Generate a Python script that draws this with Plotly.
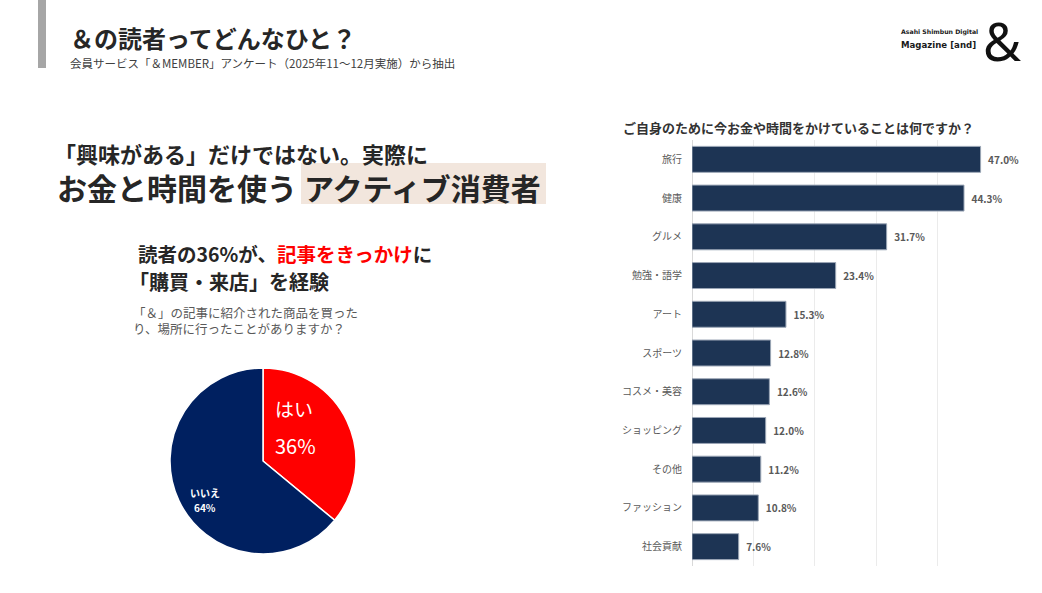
import plotly.graph_objects as go

W, H = 1042, 593
FONT = "Noto Sans CJK JP"

categories = ["旅行", "健康", "グルメ", "勉強・語学", "アート", "スポーツ", "コスメ・美容",
              "ショッピング", "その他", "ファッション", "社会貢献"]
values = [47.0, 44.3, 31.7, 23.4, 15.3, 12.8, 12.6, 12.0, 11.2, 10.8, 7.6]

pie_labels = ["はい", "いいえ"]
pie_values = [36, 64]

def px(x):
    return x / W

def py(y):
    return 1 - y / H

fig = go.Figure()

fig.add_trace(go.Bar(
    x=values, y=categories, orientation="h",
    marker=dict(color="#1d3454", line=dict(color="#9aa5b5", width=1)),
    text=[f"\u00a0\u00a0{v:.1f}%" for v in values], textposition="outside",
    textfont=dict(family=FONT, size=10, color="#595959", weight="bold"),
    cliponaxis=False, hoverinfo="skip",
))

fig.add_trace(go.Pie(
    labels=pie_labels, values=pie_values, sort=False, direction="clockwise",
    rotation=0, marker=dict(colors=["#ff0000", "#002060"], line=dict(color="white", width=1.5)),
    textinfo="none", showlegend=False, hoverinfo="skip",
    domain=dict(x=[px(170), px(356)], y=[py(554), py(368)]),
))

fig.update_layout(
    width=W, height=H, margin=dict(l=0, r=0, t=0, b=0),
    paper_bgcolor="white", plot_bgcolor="white", showlegend=False,
    bargap=0.33,
    font=dict(family=FONT),
    xaxis=dict(domain=[px(692), px(999)], range=[0, 50], dtick=10, showticklabels=False,
               showgrid=True, gridcolor="#ebebeb", gridwidth=1, zeroline=True,
               zerolinecolor="#d9d9d9", zerolinewidth=1, fixedrange=True),
    yaxis=dict(domain=[py(566), py(140)], autorange="reversed", type="category",
               tickfont=dict(family=FONT, size=10, color="#595959"), ticks="",
               ticklabelstandoff=9, showgrid=False, fixedrange=True),
)

shapes = [
    dict(type="rect", xref="paper", yref="paper", x0=px(38), x1=px(46), y0=py(68), y1=py(0),
         fillcolor="#a6a6a6", line=dict(width=0), layer="below"),
    dict(type="rect", xref="paper", yref="paper", x0=px(301), x1=px(546), y0=py(204), y1=py(163),
         fillcolor="#f2e6dd", line=dict(width=0), layer="below"),
]
fig.update_layout(shapes=shapes)

ann = []
def add(text, x, y, size, color="#262626", xanchor="left", yanchor="middle", weight="normal", family=FONT, align="left"):
    ann.append(dict(text=text, x=px(x), y=py(y), xref="paper", yref="paper", showarrow=False,
                    xanchor=xanchor, yanchor=yanchor, align=align,
                    font=dict(family=family, size=size, color=color, weight=weight)))

add("＆の読者ってどんなひと？", 68, 37, 24, weight="bold")
add("会員サービス「＆MEMBER」アンケート（2025年11〜12月実施）から抽出", 68, 63, 11.5, color="#404040")

add("Asahi Shimbun Digital", 899, 32, 6.2, color="#1a1a1a", weight="bold", family="DejaVu Sans")
add("Magazine [and]", 899, 45, 8.6, color="#1a1a1a", weight="bold", family="DejaVu Sans")
add("&", 1002, 40, 52, color="#111111", xanchor="center", weight="normal", family="Noto Sans")

add("「興味がある」だけではない。実際に", 52, 153, 22, weight="bold")
add("お金と時間を使う", 55, 187, 30, weight="bold")
add("アクティブ消費者", 302, 187, 30, weight="bold")

add("読者の36%が、<span style='color:#ff0000'>記事をきっかけ</span>に", 136, 253, 19.5, weight="bold")
add("「購買・来店」を経験", 127, 281, 20, weight="bold")
add("「＆」の記事に紹介された商品を買った<br>り、場所に行ったことがありますか？", 131, 320, 12.5, color="#595959")

add("ご自身のために今お金や時間をかけていることは何ですか？", 621, 127, 13, color="#333333", weight="bold")

add("はい", 273, 408, 19, color="white")
add("36%", 273, 445, 20, color="white")
add("いいえ", 188, 492, 10, color="white", weight="bold")
add("64%", 192, 507, 10, color="white", weight="bold")

fig.update_layout(annotations=ann)

fig.write_html("out.html")
